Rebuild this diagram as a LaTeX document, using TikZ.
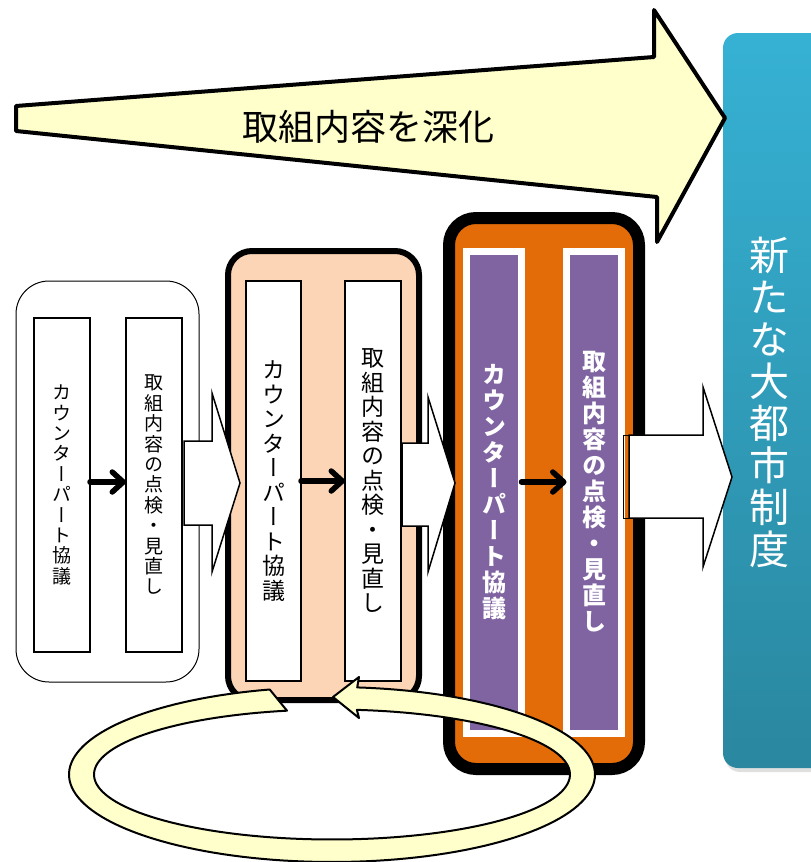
\documentclass[tikz,border=0pt]{standalone}
\usepackage{fontspec}
\newfontfamily\jp{Noto Sans CJK JP}
\newfontfamily\jpv{Noto Sans CJK JP}[RawFeature=+vert]
\usetikzlibrary{arrows.meta,shadows}
\definecolor{ltyellow}{HTML}{FFFFCC}
\definecolor{peach}{HTML}{FBD5B5}
\definecolor{orng}{HTML}{E36C09}
\definecolor{purp}{HTML}{8064A2}
\definecolor{bluetop}{HTML}{36B1D4}
\definecolor{bluebot}{HTML}{2A879F}
\tikzset{
  wbox/.style={draw, line width=2pt, fill=white, inner sep=0pt, outer sep=0pt, align=center},
  pbox/.style={draw=white, line width=7pt, fill=purp, text=white, inner sep=0pt, outer sep=0pt, align=center,
    drop shadow={shadow xshift=2pt, shadow yshift=-2.5pt, opacity=0.35}},
  stagebox/.style={draw, inner sep=0pt, outer sep=0pt},
  sarrow/.style={line width=5.5pt, line cap=round, -{Straight Barb[length=11pt, width=20pt, line cap=round, line join=round]}},
  barrow/.style={draw, fill=white, line width=1.5pt, line join=miter},
  tsmall/.style={font=\jpv\fontsize{19}{20.4}\selectfont},
  tmid/.style={font=\jpv\fontsize{23}{24.5}\selectfont},
  tbold/.style={font=\jpv\bfseries\fontsize{24}{26}\selectfont},
}
\begin{document}
\begin{tikzpicture}[x=1pt,y=-1pt]
\useasboundingbox (0,0) rectangle (811,862);
% blue block
\fill[black, opacity=0.12, rounded corners=15pt] (725,36) rectangle (845,772);
\shade[top color=bluetop, bottom color=bluebot, rounded corners=15pt] (723,33) rectangle (840,768);
\node[font=\jpv\fontsize{40}{42}\selectfont, text=white, align=center, inner sep=0pt] (newsys) at (769,402) {新\\た\\な\\大\\都\\市\\制\\度};
% big arrow
\draw[line width=4pt, fill=ltyellow, line join=round] (16,106) -- (654,57) -- (654,10) -- (725,118) -- (657,242) -- (657,197) -- (16,131) -- cycle;
\node[font=\jp\fontsize{36}{40}\selectfont, inner sep=0pt] (deep) at (368,127) {取組内容を深化};
% stage boxes
\node[stagebox, line width=1pt, rounded corners=33pt, fill=white, minimum width=183pt, minimum height=401pt] (s1) at (107.5,481.5) {};
\node[stagebox, line width=6pt, rounded corners=24pt, fill=peach, minimum width=191pt, minimum height=449pt] (s2) at (323.5,475.5) {};
\node[stagebox, line width=12pt, rounded corners=27pt, fill=orng, minimum width=190pt, minimum height=551pt] (s3) at (544,493.5) {};
% stage 1
\node[wbox, tsmall, minimum width=56pt, minimum height=334pt] (a1) at (62,485) {カ\\ウ\\ン\\タ\\ー\\パ\\ー\\ト\\協\\議};
\node[wbox, tsmall, minimum width=56pt, minimum height=334pt] (b1) at (154,485) {取\\組\\内\\容\\の\\点\\検\\・\\見\\直\\し};
\draw[sarrow] ([yshift=3pt]a1.east) -- ([yshift=3pt]b1.west);
% stage 2
\node[wbox, tmid, minimum width=55pt, minimum height=400pt] (a2) at (273.5,481) {カ\\ウ\\ン\\タ\\ー\\パ\\ー\\ト\\協\\議};
\node[wbox, tmid, minimum width=56pt, minimum height=400pt] (b2) at (373,481) {取\\組\\内\\容\\の\\点\\検\\・\\見\\直\\し};
\draw[sarrow] (a2.east) -- (b2.west);
% stage 3
\node[pbox, tbold, minimum width=55pt, minimum height=482pt] (a3) at (494,492) {カ\\ウ\\ン\\タ\\ー\\パ\\ー\\ト\\協\\議};
\node[pbox, tbold, minimum width=55pt, minimum height=482pt] (b3) at (594,492) {取\\組\\内\\容\\の\\点\\検\\・\\見\\直\\し};
\draw[sarrow] ([yshift=10pt]a3.east) -- ([yshift=10pt]b3.west);
% block arrows
\draw[barrow] (184,441) -- (212,441) -- (212,393) -- (240,483) -- (212,572) -- (212,525) -- (184,525) -- cycle;
\draw[barrow] (402,443) -- (428,443) -- (428,397) -- (455,483) -- (428,572) -- (428,526) -- (402,526) -- cycle;
\draw[barrow] (629,435) -- (703,435) -- (703,387) -- (732,477) -- (703,567) -- (703,518) -- (629,518) -- cycle;
\draw[line width=1pt] (623,435) rectangle (629,518);
% loop arrow
\draw[line width=2pt, fill=ltyellow, line join=round]
  plot[domain=256.3:-84.5, samples=150] ({332+263*cos(\x)},{774.5+87.5*sin(\x)})
  -- (359,677) -- (333,697) -- (359,718)
  -- plot[domain=-84:259.1, samples=150] ({332+238*cos(\x)},{774.5+65*sin(\x)}) -- cycle;
\end{tikzpicture}
\end{document}
